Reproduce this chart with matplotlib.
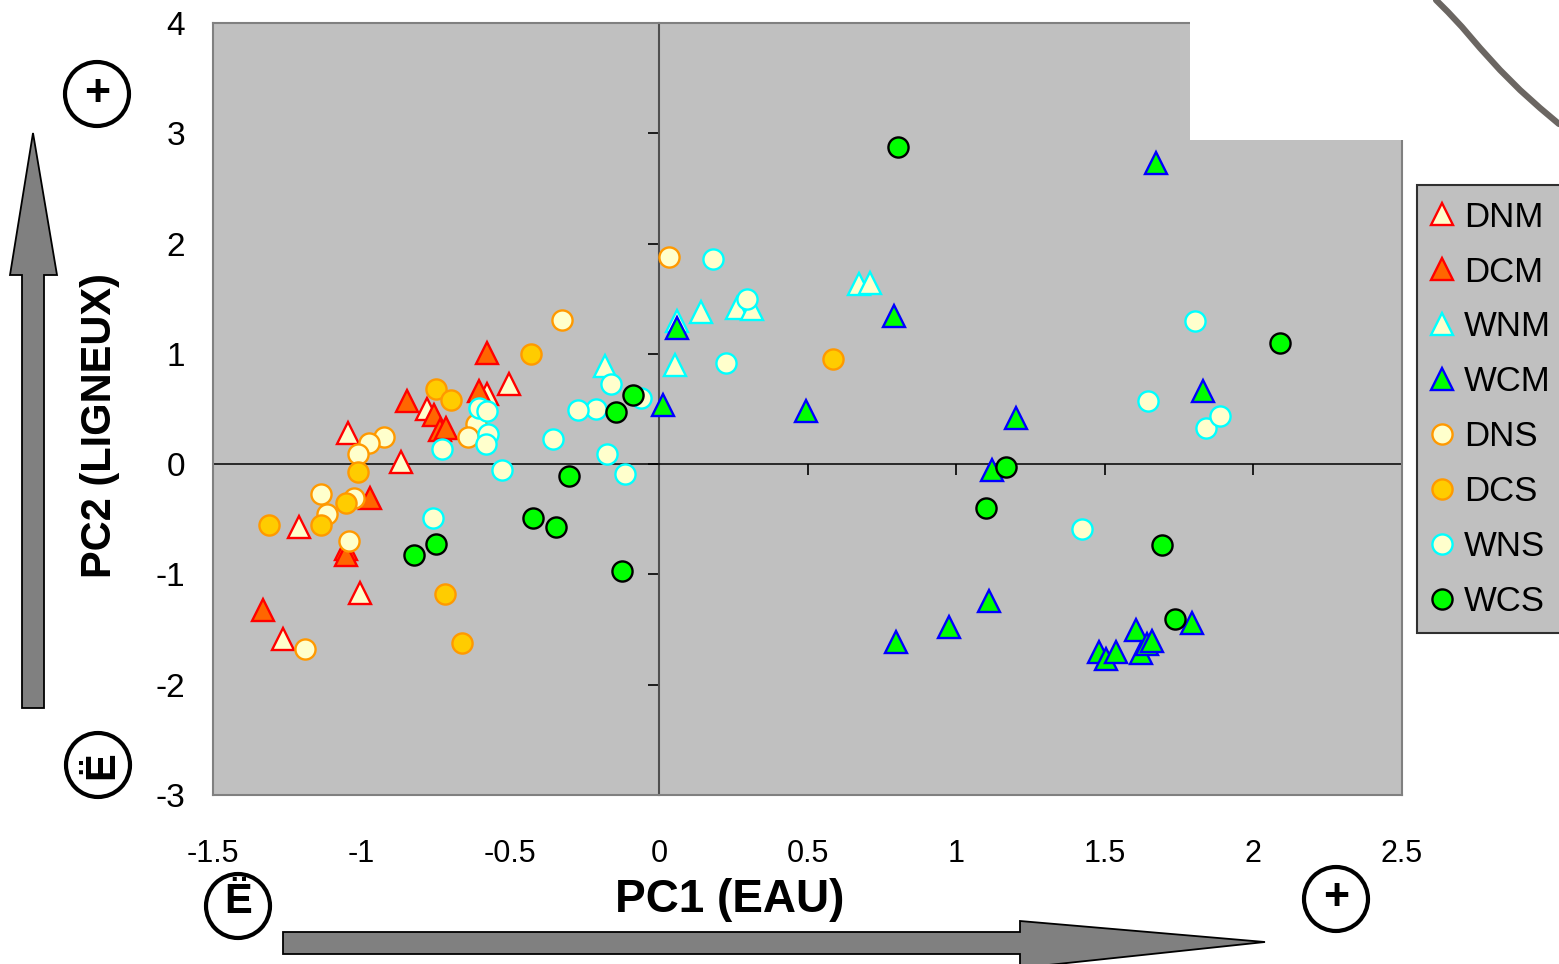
import matplotlib
matplotlib.use("Agg")
import matplotlib.pyplot as plt
from matplotlib.patches import Polygon, Ellipse, Rectangle
from matplotlib.lines import Line2D

plt.rcParams['font.family'] = ['Liberation Sans', 'DejaVu Sans']
plt.rcParams['axes.unicode_minus'] = False

# PCA scores: PC1 (water) vs PC2 (woody), one pair of lists per group
dnm_x = [-1.047, -0.869, -1.007, -1.212, -1.263, -0.505, -0.579, -0.781]
dnm_y = [0.28, 0.02, -1.17, -0.57, -1.59, 0.73, 0.64, 0.50]

dcm_x = [-1.333, -0.973, -1.054, -1.051, -0.848, -0.758, -0.737, -0.717, -0.606, -0.579]
dcm_y = [-1.32, -0.31, -0.77, -0.82, 0.57, 0.45, 0.31, 0.33, 0.66, 1.01]

wnm_x = [-0.182, 0.054, 0.061, 0.141, 0.263, 0.313, 0.673, 0.710]
wnm_y = [0.89, 0.90, 1.30, 1.38, 1.42, 1.41, 1.63, 1.64]

wcm_x = [0.013, 0.061, 0.495, 0.791, 1.673, 1.202, 1.121, 1.832, 0.798, 0.976,
         1.111, 1.795, 1.481, 1.505, 1.539, 1.606, 1.623, 1.643, 1.660]
wcm_y = [0.54, 1.23, 0.48, 1.34, 2.73, 0.42, -0.05, 0.66, -1.61, -1.48,
         -1.24, -1.44, -1.70, -1.77, -1.70, -1.50, -1.71, -1.63, -1.60]

dns_x = [0.034, -0.327, -0.926, -0.976, -1.013, -1.135, -1.118, -1.027, -1.044,
         -1.192, -0.616, -0.643]
dns_y = [1.88, 1.31, 0.25, 0.19, 0.09, -0.27, -0.45, -0.31, -0.70, -1.68, 0.36, 0.25]

dcs_x = [-0.431, -0.751, -0.700, -1.013, -1.051, -1.135, -1.313, -0.721, -0.663, 0.586]
dcs_y = [1.00, 0.68, 0.58, -0.07, -0.35, -0.55, -0.55, -1.18, -1.62, 0.95]

wns_x = [0.182, 0.296, 0.226, -0.162, -0.061, -0.212, -0.273, -0.357, -0.175, -0.114,
         -0.529, -0.606, -0.579, -0.576, -0.582, -0.731, -0.761, 1.424, 1.646, 1.805,
         1.842, 1.889]
wns_y = [1.86, 1.50, 0.92, 0.73, 0.60, 0.50, 0.49, 0.23, 0.09, -0.09,
         -0.05, 0.51, 0.48, 0.27, 0.18, 0.14, -0.49, -0.59, 0.57, 1.30,
         0.33, 0.44]

wcs_x = [0.805, 2.088, -0.088, -0.145, -0.303, -0.424, -0.347, -0.125, -0.751, -0.825,
         1.168, 1.101, 1.694, 1.737]
wcs_y = [2.88, 1.10, 0.63, 0.47, -0.11, -0.49, -0.57, -0.97, -0.72, -0.82,
         -0.03, -0.40, -0.73, -1.40]

x_ticks = [-1.5, -1, -0.5, 0, 0.5, 1, 1.5, 2, 2.5]
x_tick_labels = ['-1.5', '-1', '-0.5', '0', '0.5', '1', '1.5', '2', '2.5']
y_ticks = [-3, -2, -1, 0, 1, 2, 3, 4]
y_tick_labels = ['-3', '-2', '-1', '0', '1', '2', '3', '4']

W, H = 1559, 964
fig = plt.figure(figsize=(W / 100, H / 100), dpi=100)
fig.patch.set_facecolor('white')


def fx(px):
    return px / W


def fy(py):
    return 1 - py / H


pos = [fx(213), fy(795), fx(1402) - fx(213), fy(23) - fy(795)]

# background axes: grey field with the two zero lines and their ticks
bg = fig.add_axes(pos)
bg.set_facecolor('#C0C0C0')
bg.set_xlim(-1.5, 2.5)
bg.set_ylim(-3, 4)
bg.set_xticks(x_ticks)
bg.set_yticks(y_ticks)
for s in ['top', 'right']:
    bg.spines[s].set_visible(False)
bg.spines['left'].set_position(('data', 0))
bg.spines['bottom'].set_position(('data', 0))
bg.spines['left'].set_color('#505050')
bg.spines['left'].set_linewidth(1.5)
bg.spines['bottom'].set_color('black')
bg.spines['bottom'].set_linewidth(1.1)
bg.tick_params(direction='out', length=8, width=1.2, color='black',
               labelleft=False, labelbottom=False)

# front axes: markers, frame and tick labels
ax = fig.add_axes(pos)
ax.set_facecolor('none')
ax.set_xlim(-1.5, 2.5)
ax.set_ylim(-3, 4)
ax.set_xticks(x_ticks, x_tick_labels)
ax.set_yticks(y_ticks, y_tick_labels)
ax.tick_params(axis='x', length=0, pad=32, labelsize=22)
ax.tick_params(axis='y', length=0, pad=20, labelsize=24)
for s in ax.spines.values():
    s.set_color('#808080')
    s.set_linewidth(1.5)

tri = dict(linestyle='none', marker='^', ms=16, mew=1.7)
cir = dict(linestyle='none', marker='o', ms=14.5, mew=1.7)
ax.plot(dnm_x, dnm_y, mfc='#FFFFCC', mec='#FF0000', label='DNM', **tri)
ax.plot(dcm_x, dcm_y, mfc='#FF6600', mec='#FF0000', label='DCM', **tri)
ax.plot(wnm_x, wnm_y, mfc='#FFFFCC', mec='#00FFFF', label='WNM', **tri)
ax.plot(wcm_x, wcm_y, mfc='#00FF00', mec='#0000FF', label='WCM', **tri)
ax.plot(dns_x, dns_y, mfc='#FFFFCC', mec='#FF9900', label='DNS', **cir)
ax.plot(dcs_x, dcs_y, mfc='#FFCC00', mec='#FF9900', label='DCS', **cir)
ax.plot(wns_x, wns_y, mfc='#FFFFCC', mec='#00FFFF', label='WNS', **cir)
ax.plot(wcs_x, wcs_y, mfc='#00FF00', mec='#000000', label='WCS', **cir)

ax.set_xlabel('PC1 (EAU)', fontsize=33, fontweight='bold', va='center')
ax.xaxis.set_label_coords((730 - 213) / 1189, (795 - 900) / 772)
ax.set_ylabel('PC2 (LIGNEUX)', fontsize=30, fontweight='bold', va='center')
ax.yaxis.set_label_coords((100 - 213) / 1189, (795 - 425) / 772)

leg = fig.legend(loc='upper left', bbox_to_anchor=(fx(1417), fy(185)),
                 fontsize=25, frameon=True, fancybox=False, framealpha=1,
                 facecolor='#C0C0C0', edgecolor='#303030', borderpad=0.45,
                 handlelength=0.55, handletextpad=0.35, labelspacing=0.63,
                 borderaxespad=0)
leg.get_frame().set_linewidth(1.5)

# white cut-out at the top right and the stray stroke beside it
fig.add_artist(Rectangle((fx(1190), fy(140)), fx(1412) - fx(1190), fy(0) - fy(140),
                         transform=fig.transFigure, facecolor='white',
                         edgecolor='none', zorder=5))
sx = [1436, 1448, 1462, 1480, 1500, 1520, 1540, 1559]
sy = [0, 12, 27, 48, 70, 90, 108, 124]
fig.add_artist(Line2D([fx(v) for v in sx], [fy(v) for v in sy],
                      transform=fig.transFigure, color='#6b6662', lw=4.5,
                      solid_capstyle='round', solid_joinstyle='round', zorder=6))

# direction arrows
h_arrow = [(283, 932), (1020, 932), (1020, 921), (1265, 942), (1020, 968),
           (1020, 954), (283, 954)]
v_arrow = [(22, 708), (22, 275), (10, 275), (33, 133), (57, 275), (44, 275), (44, 708)]
for pts in (h_arrow, v_arrow):
    fig.add_artist(Polygon([(fx(a), fy(b)) for a, b in pts], closed=True,
                           transform=fig.transFigure, facecolor='#808080',
                           edgecolor='black', lw=1.3, zorder=6))

# circled signs at the arrow ends
for cx, cy, txt, rot, dx, dy in [(97, 94, '+', 0, 0, 0), (1336, 899, '+', 0, 0, 0),
                                 (98, 765, 'Ë', 90, 4, 0), (238, 906, 'Ë', 0, 0, -4)]:
    fig.add_artist(Ellipse((fx(cx), fy(cy)), 64 / W, 64 / H, transform=fig.transFigure,
                           facecolor='none', edgecolor='black', lw=3, zorder=7))
    fig.text(fx(cx + dx), fy(cy + dy), txt, ha='center', va='center', rotation=rot,
             fontsize=32 if txt == '+' else 30, fontweight='bold', zorder=8)

fig.savefig('out.png', dpi=100)
